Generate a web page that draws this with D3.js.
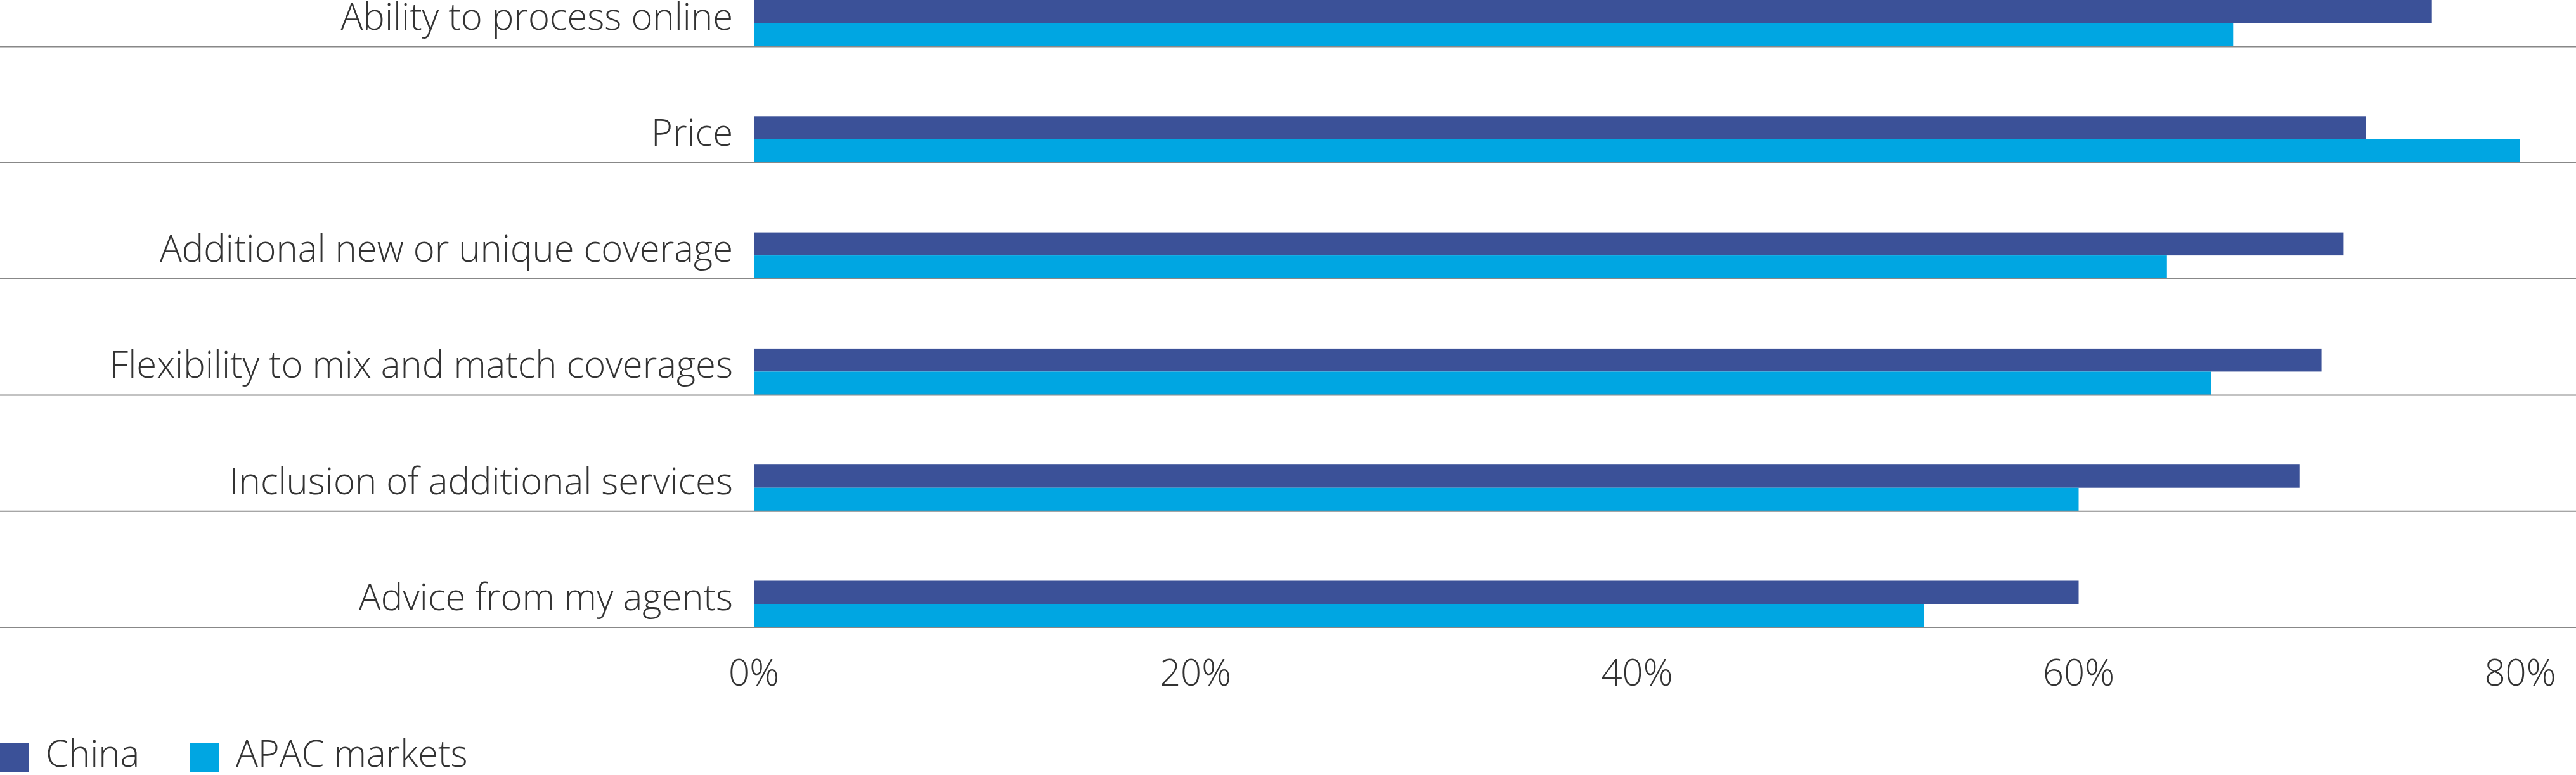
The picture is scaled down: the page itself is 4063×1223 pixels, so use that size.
<!DOCTYPE html><html><head><meta charset="utf-8"><script src="https://cdn.jsdelivr.net/npm/d3@7"></script>
<style>body{margin:0;background:#fff}</style></head><body><svg id="c" width="4063" height="1223"></svg>
<script>
const categories=["Ability to process online","Price","Additional new or unique coverage","Flexibility to mix and match coverages","Inclusion of additional services","Advice from my agents"];
const china=[76,73,72,71,70,60];
const apac=[67,80,64,66,60,53];
const ticks=[0,20,40,60,80];
const series=[{name:"China",vals:china,color:"#3b5198"},{name:"APAC markets",vals:apac,color:"#00a6e2"}];
const svg=d3.select("#c");
const font="'Open Sans', 'Liberation Sans', sans-serif";
const x=d3.scaleLinear().domain([0,80]).range([1189,3975]);
const step=183.3;
const yb=c=>categories.indexOf(c)*step;
const bh=36.5;
categories.forEach((c,i)=>{
  const y0=yb(c);
  series.forEach((s,j)=>{
    svg.append("rect").attr("x",x(0)).attr("y",y0+j*bh).attr("width",x(s.vals[i])-x(0)).attr("height",bh).attr("fill",s.color);
  });
  svg.append("line").attr("x1",0).attr("x2",4063).attr("y1",y0+2*bh+0.5).attr("y2",y0+2*bh+0.5).attr("stroke","#888").attr("stroke-width",2);
  svg.append("text").attr("x",1156).attr("y",y0+bh+10).attr("text-anchor","end").attr("font-family",font).attr("font-weight",300).attr("font-size",58).attr("fill","#333").text(c);
});
ticks.forEach(t=>{
  svg.append("text").attr("x",x(t)).attr("y",1082).attr("text-anchor","middle").attr("font-family",font).attr("font-weight",300).attr("font-size",58).attr("fill","#333").text(t+"%");
});
series.forEach((s,j)=>{
  const gx=j===0?0:300;
  svg.append("rect").attr("x",gx).attr("y",1172).attr("width",46).attr("height",46).attr("fill",s.color);
  svg.append("text").attr("x",gx+72).attr("y",1210).attr("font-family",font).attr("font-weight",300).attr("font-size",58).attr("fill","#333").text(s.name);
});
</script></body></html>
